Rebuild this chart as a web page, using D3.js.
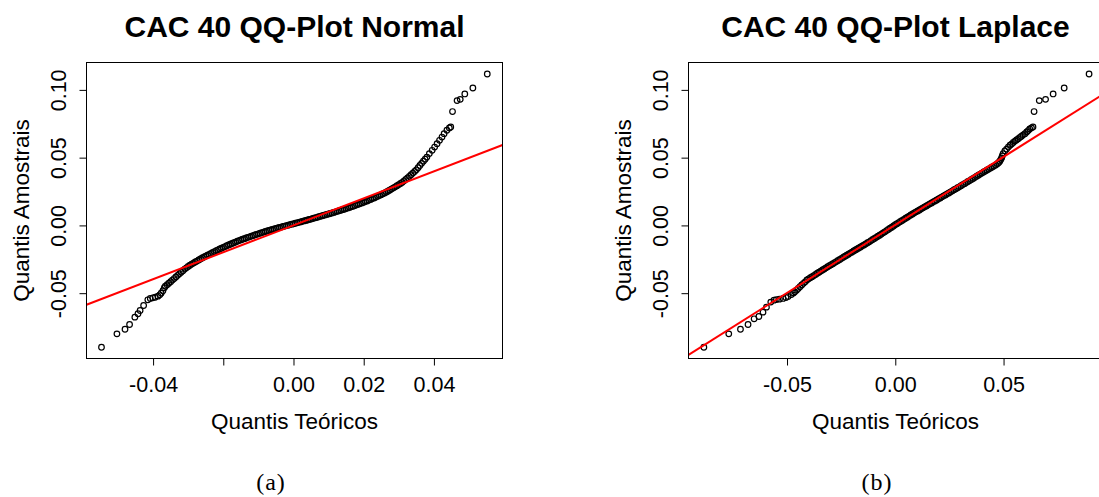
<!DOCTYPE html>
<html><head><meta charset="utf-8">
<script src="https://cdn.jsdelivr.net/npm/d3@7"></script>
<style>body{margin:0;background:#fff}svg{display:block}</style>
</head><body>
<svg id="c" width="1099" height="497"></svg>
<script>
// ---------------- DATA ----------------
const titles = ["CAC 40 QQ-Plot Normal", "CAC 40 QQ-Plot Laplace"];
const captions = ["(a)", "(b)"];
const xAxisTitle = "Quantis Teóricos";
const yAxisTitle = "Quantis Amostrais";

const yTicks = [-0.05, 0.00, 0.05, 0.10];
const yTickLabels = ["-0.05", "0.00", "0.05", "0.10"];
const xTicksNormal = [-0.04, -0.02, 0.00, 0.02, 0.04];
const xTickLabelsNormal = ["-0.04", "", "0.00", "0.02", "0.04"];
const xTicksLaplace = [-0.05, 0.00, 0.05];
const xTickLabelsLaplace = ["-0.05", "0.00", "0.05"];

// qqline: [intercept, slope]
const qqLineNormal = [0.0001, 0.995];
const qqLineLaplace = [0.0004, 1.004];

// Normal QQ-plot: theoretical quantiles and sample quantiles
const normalTheo = [
 -0.0547,-0.0503,-0.0480,-0.0467,-0.0452,-0.0443,-0.0437,-0.0427,-0.0415,-0.0408,-0.0401,-0.0394,-0.0386,-0.0381,-0.0377,-0.0372,-0.0368,
 -0.0365,-0.0360,-0.0355,-0.0350,-0.0345,-0.0340,-0.0335,-0.0330,-0.0325,-0.0320,-0.0315,-0.0310,-0.0305,-0.0300,-0.0295,-0.0290,
 -0.0285,-0.0280,-0.0275,-0.0270,-0.0265,-0.0260,-0.0255,-0.0250,-0.0245,-0.0240,-0.0235,-0.0230,-0.0225,-0.0220,-0.0215,-0.0210,
 -0.0205,-0.0200,-0.0195,-0.0190,-0.0185,-0.0180,-0.0175,-0.0170,-0.0165,-0.0160,-0.0155,-0.0150,-0.0145,-0.0140,-0.0135,-0.0130,
 -0.0125,-0.0120,-0.0115,-0.0110,-0.0105,-0.0100,-0.0095,-0.0090,-0.0085,-0.0080,-0.0075,-0.0070,-0.0065,-0.0060,-0.0055,-0.0050,
 -0.0045,-0.0040,-0.0035,-0.0030,-0.0025,-0.0020,-0.0015,-0.0010,-0.0005,0.0000,0.0005,0.0010,0.0015,0.0020,0.0025,0.0030,
 0.0035,0.0040,0.0045,0.0050,0.0055,0.0060,0.0065,0.0070,0.0075,0.0080,0.0085,0.0090,0.0095,0.0100,0.0105,0.0110,
 0.0115,0.0120,0.0125,0.0130,0.0135,0.0140,0.0145,0.0150,0.0155,0.0160,0.0165,0.0170,0.0175,0.0180,0.0185,0.0190,
 0.0195,0.0200,0.0205,0.0210,0.0215,0.0220,0.0225,0.0230,0.0235,0.0240,0.0245,0.0250,0.0255,0.0260,0.0265,0.0270,
 0.0275,0.0280,0.0285,0.0290,0.0295,0.0300,0.0305,0.0310,0.0315,0.0320,0.0325,0.0330,0.0335,0.0340,0.0345,0.0350,
 0.0355,0.0360,0.0365,0.0370,
 0.0375,0.0380,0.0387,0.0395,0.0402,0.0409,0.0416,0.0423,0.0429,0.0437,0.0444,0.0448,0.0453,0.0466,0.0475,0.0488,0.0511,0.0552
];
const normalSample = [
 -0.0899,-0.0800,-0.0766,-0.0731,-0.0677,-0.0652,-0.0628,-0.0591,-0.0549,-0.0539,-0.0534,-0.0530,-0.0522,-0.0512,-0.0500,-0.0482,-0.0460,
 -0.0449,-0.0437,-0.0426,-0.0415,-0.0403,-0.0392,-0.0380,-0.0368,-0.0357,-0.0345,-0.0334,-0.0322,-0.0313,-0.0303,-0.0294,-0.0285,
 -0.0278,-0.0270,-0.0263,-0.0255,-0.0248,-0.0240,-0.0233,-0.0226,-0.0219,-0.0213,-0.0206,-0.0199,-0.0193,-0.0186,-0.0180,-0.0174,
 -0.0168,-0.0162,-0.0156,-0.0150,-0.0144,-0.0139,-0.0133,-0.0128,-0.0123,-0.0117,-0.0112,-0.0107,-0.0102,-0.0098,-0.0093,-0.0088,
 -0.0084,-0.0079,-0.0075,-0.0070,-0.0066,-0.0062,-0.0057,-0.0053,-0.0049,-0.0045,-0.0041,-0.0037,-0.0033,-0.0030,-0.0026,-0.0022,
 -0.0019,-0.0015,-0.0012,-0.0008,-0.0005,-0.0001,0.0002,0.0006,0.0009,0.0012,0.0016,0.0019,0.0023,0.0026,0.0030,0.0033,
 0.0037,0.0040,0.0044,0.0047,0.0051,0.0055,0.0058,0.0062,0.0066,0.0070,0.0073,0.0077,0.0081,0.0085,0.0088,0.0092,
 0.0096,0.0100,0.0104,0.0108,0.0112,0.0116,0.0120,0.0124,0.0129,0.0133,0.0138,0.0142,0.0147,0.0152,0.0156,0.0161,
 0.0166,0.0171,0.0176,0.0181,0.0187,0.0192,0.0198,0.0203,0.0209,0.0215,0.0221,0.0227,0.0234,0.0240,0.0247,0.0254,
 0.0262,0.0270,0.0277,0.0285,0.0293,0.0301,0.0310,0.0318,0.0329,0.0340,0.0351,0.0362,0.0374,0.0386,0.0398,0.0410,
 0.0426,0.0442,0.0458,0.0474,
 0.0489,0.0504,0.0530,0.0554,0.0578,0.0603,0.0628,0.0652,0.0677,0.0702,0.0719,0.0726,0.0840,0.0921,0.0930,0.0970,0.1014,0.1117
];

// Laplace QQ-plot: theoretical quantiles and sample quantiles
const laplaceTheo = [
 -0.0884,-0.0769,-0.0715,-0.0680,-0.0652,-0.0630,-0.0611,-0.0595,-0.0575,-0.0560,-0.0549,-0.0535,-0.0518,-0.0505,-0.0495,-0.0480,-0.0470,
 -0.0464,-0.0456,-0.0448,-0.0440,-0.0432,-0.0424,-0.0416,-0.0408,-0.0400,-0.0392,-0.0384,-0.0376,-0.0368,-0.0360,-0.0352,-0.0344,
 -0.0336,-0.0328,-0.0320,-0.0312,-0.0304,-0.0296,-0.0288,-0.0280,-0.0272,-0.0264,-0.0256,-0.0248,-0.0240,-0.0232,-0.0224,-0.0216,
 -0.0208,-0.0200,-0.0192,-0.0184,-0.0176,-0.0168,-0.0160,-0.0152,-0.0144,-0.0136,-0.0128,-0.0120,-0.0112,-0.0104,-0.0096,-0.0088,
 -0.0080,-0.0072,-0.0064,-0.0056,-0.0048,-0.0040,-0.0032,-0.0024,-0.0016,-0.0008,0.0000,0.0008,0.0016,0.0024,0.0032,0.0040,
 0.0048,0.0056,0.0064,0.0072,0.0080,0.0088,0.0096,0.0104,0.0112,0.0120,0.0128,0.0136,0.0144,0.0152,0.0160,0.0168,
 0.0176,0.0184,0.0192,0.0200,0.0208,0.0216,0.0224,0.0232,0.0240,0.0248,0.0256,0.0264,0.0272,0.0280,0.0288,0.0296,
 0.0304,0.0312,0.0320,0.0328,0.0336,0.0344,0.0352,0.0360,0.0368,0.0376,0.0384,0.0392,0.0400,0.0408,0.0416,0.0424,
 0.0432,0.0440,0.0448,0.0456,0.0464,
 0.0472,0.0478,0.0483,0.0487,0.0491,
 0.0494,0.0498,0.0506,0.0514,0.0522,0.0530,0.0537,0.0545,0.0553,0.0560,0.0568,0.0576,0.0583,0.0591,0.0599,0.0607,0.0614,0.0621,0.0629,0.0636,
 0.0641,0.0665,0.0694,0.0729,0.0780,0.0895
];
const laplaceSample = [
 -0.0899,-0.0800,-0.0766,-0.0731,-0.0689,-0.0672,-0.0640,-0.0603,-0.0566,-0.0552,-0.0547,-0.0544,-0.0539,-0.0532,-0.0524,-0.0510,-0.0498,
 -0.0490,-0.0478,-0.0465,-0.0452,-0.0439,-0.0427,-0.0416,-0.0402,-0.0394,-0.0386,-0.0378,-0.0370,-0.0362,-0.0353,-0.0345,-0.0337,
 -0.0329,-0.0321,-0.0313,-0.0305,-0.0297,-0.0290,-0.0282,-0.0274,-0.0267,-0.0259,-0.0251,-0.0243,-0.0235,-0.0227,-0.0220,-0.0212,
 -0.0204,-0.0197,-0.0189,-0.0181,-0.0174,-0.0166,-0.0159,-0.0151,-0.0144,-0.0136,-0.0128,-0.0121,-0.0112,-0.0104,-0.0096,-0.0088,
 -0.0080,-0.0072,-0.0064,-0.0055,-0.0047,-0.0038,-0.0030,-0.0021,-0.0013,-0.0004,0.0005,0.0013,0.0021,0.0029,0.0037,0.0045,
 0.0053,0.0061,0.0069,0.0077,0.0085,0.0093,0.0100,0.0107,0.0114,0.0122,0.0130,0.0137,0.0144,0.0152,0.0159,0.0166,
 0.0174,0.0181,0.0188,0.0196,0.0203,0.0211,0.0218,0.0225,0.0233,0.0240,0.0248,0.0255,0.0263,0.0270,0.0278,0.0285,
 0.0293,0.0301,0.0308,0.0316,0.0324,0.0331,0.0339,0.0347,0.0355,0.0363,0.0371,0.0379,0.0386,0.0394,0.0401,0.0409,
 0.0416,0.0424,0.0431,0.0438,0.0446,
 0.0455,0.0464,0.0474,0.0486,0.0498,
 0.0512,0.0530,0.0550,0.0563,0.0578,0.0592,0.0600,0.0612,0.0622,0.0630,0.0640,0.0650,0.0658,0.0668,0.0677,0.0690,0.0700,0.0712,0.0720,0.0726,
 0.0840,0.0921,0.0930,0.0970,0.1014,0.1117
];

// ---------------- LAYOUT ----------------
const TOP = 62.5, BOTTOM = 358.5;
const yDomain = [-0.0982, 0.1202];
const FONT = "'Liberation Sans', Arial, Helvetica, sans-serif";
const svg = d3.select("#c");

const panels = [
  {id: "n", left: 86.5, right: 502.5, xDomain: [-0.05897, 0.05954], theo: normalTheo, sample: normalSample,
   line: qqLineNormal, xTicks: xTicksNormal, xLabels: xTickLabelsNormal, title: titles[0], caption: captions[0], capX: 271},
  {id: "l", left: 688.5, right: 1102.5, xDomain: [-0.0955, 0.0957], theo: laplaceTheo, sample: laplaceSample,
   line: qqLineLaplace, xTicks: xTicksLaplace, xLabels: xTickLabelsLaplace, title: titles[1], caption: captions[1], capX: 877}
];

panels.forEach(p => {
  const x = d3.scaleLinear().domain(p.xDomain).range([p.left, p.right]);
  const y = d3.scaleLinear().domain(yDomain).range([BOTTOM, TOP]);
  const g = svg.append("g");
  const cid = "clip-" + p.id;
  svg.append("clipPath").attr("id", cid).append("rect")
    .attr("x", p.left).attr("y", TOP).attr("width", p.right - p.left).attr("height", BOTTOM - TOP);

  // points
  g.append("g").attr("clip-path", `url(#${cid})`)
    .selectAll("circle").data(d3.zip(p.theo, p.sample)).join("circle")
    .attr("cx", d => x(d[0])).attr("cy", d => y(d[1])).attr("r", 2.8)
    .attr("fill", "none").attr("stroke", "#000").attr("stroke-width", 1.2);

  // qq line
  const [a, b] = p.line;
  g.append("line").attr("clip-path", `url(#${cid})`)
    .attr("x1", x(p.xDomain[0])).attr("y1", y(a + b * p.xDomain[0]))
    .attr("x2", x(p.xDomain[1])).attr("y2", y(a + b * p.xDomain[1]))
    .attr("stroke", "#ff0000").attr("stroke-width", 2);

  // box
  g.append("rect").attr("x", p.left).attr("y", TOP)
    .attr("width", p.right - p.left).attr("height", BOTTOM - TOP)
    .attr("fill", "none").attr("stroke", "#000").attr("stroke-width", 1);

  // x axis
  const xa = g.append("g").attr("transform", `translate(0,${BOTTOM})`)
    .call(d3.axisBottom(x).tickValues(p.xTicks).tickFormat((d, i) => p.xLabels[i]).tickSize(7).tickSizeOuter(0));
  xa.select(".domain").remove();
  xa.attr("font-family", FONT).attr("font-size", 21.5);
  xa.selectAll(".tick line").attr("stroke", "#000");
  xa.selectAll(".tick text").attr("y", 33.5).attr("dy", null).attr("fill", "#000");

  // y axis
  const ya = g.append("g").attr("transform", `translate(${p.left},0)`)
    .call(d3.axisLeft(y).tickValues(yTicks).tickFormat((d, i) => yTickLabels[i]).tickSize(7).tickSizeOuter(0));
  ya.select(".domain").remove();
  ya.attr("font-family", FONT).attr("font-size", 21.5);
  ya.selectAll(".tick line").attr("stroke", "#000");
  ya.selectAll(".tick text").attr("x", null).attr("dy", null).attr("fill", "#000")
    .attr("text-anchor", "middle").attr("transform", "translate(-21,0) rotate(-90)");

  const cx = (p.left + p.right) / 2;
  // title
  svg.append("text").attr("x", cx).attr("y", 36.5).attr("text-anchor", "middle")
    .attr("font-family", FONT).attr("font-weight", "bold").attr("font-size", 30).attr("fill", "#000")
    .text(p.title);
  // x title
  svg.append("text").attr("x", cx).attr("y", 428.5).attr("text-anchor", "middle")
    .attr("font-family", FONT).attr("font-size", 22.5).attr("fill", "#000").text(xAxisTitle);
  // y title
  svg.append("text").attr("transform", `translate(${p.left - 58},${(TOP + BOTTOM) / 2}) rotate(-90)`)
    .attr("text-anchor", "middle").attr("font-family", FONT).attr("font-size", 22.5).attr("fill", "#000")
    .text(yAxisTitle);
  // caption
  svg.append("text").attr("x", p.capX).attr("y", 490).attr("text-anchor", "middle")
    .attr("font-family", "'Liberation Serif', 'DejaVu Serif', serif").attr("font-size", 24)
    .attr("letter-spacing", 1).attr("fill", "#000").text(p.caption);
});
</script>
</body></html>
